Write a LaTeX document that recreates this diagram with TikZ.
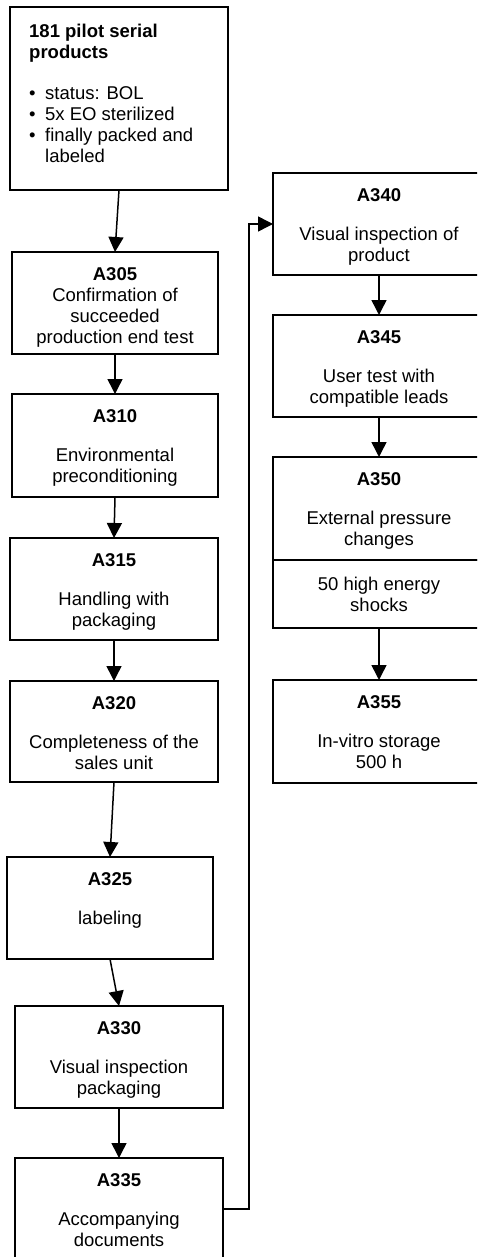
\documentclass[tikz,border=0pt]{standalone}
\usepackage{fontspec}
\setmainfont{Liberation Sans}
\usetikzlibrary{arrows.meta}
\begin{document}
\begin{tikzpicture}[x=1pt,y=-1pt,
  box/.style={draw=black, line width=1.4pt, inner sep=0pt, outer sep=0pt},
  txt/.style={anchor=north, inner sep=0pt, align=center, font=\fontsize{18.5}{21}\selectfont},
  arr/.style={-{Triangle[width=15pt,length=15pt]}, line width=1.5pt}]
\useasboundingbox (0,0) rectangle (477,1257);
\clip (0,0) rectangle (477,1257);
% left column
\node[box, minimum width=218pt, minimum height=183pt] (p0) at (119,98.5) {};
\node[anchor=north west, inner sep=0pt, align=left, font=\fontsize{18.5}{21}\selectfont] (p0t) at (29,23.5)
  {\textbf{181 pilot serial}\\\textbf{products}\\[20pt]
   \makebox[16pt][l]{•}status: BOL\\
   \makebox[16pt][l]{•}5x EO sterilized\\
   \makebox[16pt][l]{•}finally packed and\\
   \hspace*{16pt}labeled};
\node[box, minimum width=206pt, minimum height=102pt] (a305) at (115,303) {};
\node[txt, yshift=-15pt] (a305t) at (a305.north) {\textbf{A305}\\Confirmation of\\succeeded\\production end test};
\node[box, minimum width=206pt, minimum height=103pt] (a310) at (115,445.5) {};
\node[txt, yshift=-15pt] (a310t) at (a310.north) {\textbf{A310}\\[18pt]Environmental\\preconditioning};
\node[box, minimum width=208pt, minimum height=102pt] (a315) at (114,589) {};
\node[txt, yshift=-15pt] (a315t) at (a315.north) {\textbf{A315}\\[18pt]Handling with\\packaging};
\node[box, minimum width=208pt, minimum height=101pt] (a320) at (114,731.5) {};
\node[txt, yshift=-15pt] (a320t) at (a320.north) {\textbf{A320}\\[18pt]Completeness of the\\sales unit};
\node[box, minimum width=206pt, minimum height=102pt] (a325) at (110,908) {};
\node[txt, yshift=-15pt] (a325t) at (a325.north) {\textbf{A325}\\[18pt]labeling};
\node[box, minimum width=208pt, minimum height=102pt] (a330) at (119,1057) {};
\node[txt, yshift=-15pt] (a330t) at (a330.north) {\textbf{A330}\\[18pt]Visual inspection\\packaging};
\node[box, minimum width=208pt, minimum height=102pt] (a335) at (119,1209) {};
\node[txt, yshift=-15pt] (a335t) at (a335.north) {\textbf{A335}\\[18pt]Accompanying\\documents};
% right column
\node[box, minimum width=212pt, minimum height=102pt] (a340) at (379,224) {};
\node[txt, yshift=-15pt] (a340t) at (a340.north) {\textbf{A340}\\[18pt]Visual inspection of\\product};
\node[box, minimum width=212pt, minimum height=102pt] (a345) at (379,366) {};
\node[txt, yshift=-15pt] (a345t) at (a345.north) {\textbf{A345}\\[18pt]User test with\\compatible leads};
\node[box, minimum width=212pt, minimum height=103pt] (a350) at (379,508.5) {};
\node[txt, yshift=-15pt] (a350t) at (a350.north) {\textbf{A350}\\[18pt]External pressure\\changes};
\node[box, minimum width=212pt, minimum height=68pt, align=center, font=\fontsize{18.5}{21}\selectfont] (a350b) at (379,594) {50 high energy\\shocks};
\node[box, minimum width=212pt, minimum height=103pt] (a355) at (379,731.5) {};
\node[txt, yshift=-15pt] (a355t) at (a355.north) {\textbf{A355}\\[18pt]In-vitro storage\\500 h};
% connectors
\draw[arr] (p0.south) -- (a305.north);
\draw[arr] (a305.south) -- (a310.north);
\draw[arr] (a310.south) -- (a315.north);
\draw[arr] (a315.south) -- (a320.north);
\draw[arr] (a320.south) -- (a325.north);
\draw[arr] (a325.south) -- (a330.north);
\draw[arr] (a330.south) -- (a335.north);
\draw[arr] (a335.east) -- ++(26,0) |- (a340.west);
\draw[arr] (a340.south) -- (a345.north);
\draw[arr] (a345.south) -- (a350.north);
\draw[arr] (a350b.south) -- (a355.north);
\end{tikzpicture}
\end{document}
